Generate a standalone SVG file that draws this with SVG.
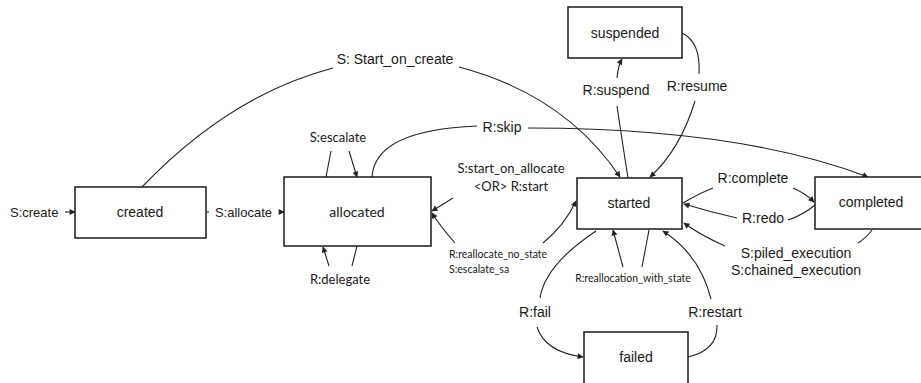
<svg xmlns="http://www.w3.org/2000/svg" width="921" height="383" viewBox="0 0 921 383">
<style>
.box{fill:#fff;stroke:#1a1a1a;stroke-width:1.5}
.c{fill:none;stroke:#222;stroke-width:1.1}
.a{font-family:"Liberation Sans",Arial,sans-serif;font-size:14px;fill:#1a1a1a}
.sm{font-size:13px}
.k{font-family:Lato,"Open Sans",sans-serif;font-size:13px;fill:#1a1a1a}
.ks{font-family:Lato,"Open Sans",sans-serif;font-size:10.5px;fill:#1a1a1a}
.m{text-anchor:middle}
</style>
<defs>
<marker id="ah" viewBox="0 0 10 10" refX="9" refY="5" markerWidth="7" markerHeight="6" markerUnits="userSpaceOnUse" orient="auto">
<path d="M0,0 L10,5 L0,10 z" fill="#222"/>
</marker>
</defs>
<rect width="921" height="383" fill="#fff"/>
<g id="connectors">
<path class="c" d="M65,212 L75,212" marker-end="url(#ah)"/>
<path class="c" d="M206,212 L209,212"/>
<path class="c" d="M279,212 L284,212" marker-end="url(#ah)"/>
<path class="c" d="M142,187 Q230,95 333,68"/>
<path class="c" d="M459,67 Q565,95 620,177" marker-end="url(#ah)"/>
<path class="c" d="M326,177 L331,151"/>
<path class="c" d="M349,151 L357,177" marker-end="url(#ah)"/>
<path class="c" d="M329,266 L323,247" marker-end="url(#ah)"/>
<path class="c" d="M357,246 L352,266"/>
<path class="c" d="M372,177 Q375,130 477,126"/>
<path class="c" d="M528,128 Q740,128 868,177" marker-end="url(#ah)"/>
<path class="c" d="M628,178 Q622,140 617,106"/>
<path class="c" d="M617,78 Q618,66 622,59" marker-end="url(#ah)"/>
<path class="c" d="M682,33 Q701,42 699,74"/>
<path class="c" d="M695,101 Q680,150 650,177" marker-end="url(#ah)"/>
<path class="c" d="M453,198 L432,211" marker-end="url(#ah)"/>
<path class="c" d="M455,243 Q440,226 432,213" marker-end="url(#ah)"/>
<path class="c" d="M543,243 Q565,225 576,201" marker-end="url(#ah)"/>
<path class="c" d="M683,203 Q700,193 713,188"/>
<path class="c" d="M793,188 Q805,193 814,202" marker-end="url(#ah)"/>
<path class="c" d="M815,205 Q803,215 788,220"/>
<path class="c" d="M737,218 Q710,212 684,204" marker-end="url(#ah)"/>
<path class="c" d="M725,246 Q700,235 684,223" marker-end="url(#ah)"/>
<path class="c" d="M872,230 Q866,238 858,243"/>
<path class="c" d="M623,267 L613,230" marker-end="url(#ah)"/>
<path class="c" d="M642,267 L649,230"/>
<path class="c" d="M596,231 Q545,265 540,298"/>
<path class="c" d="M537,327 Q545,352 583,357" marker-end="url(#ah)"/>
<path class="c" d="M688,357 Q718,350 717,325"/>
<path class="c" d="M711,299 Q700,255 663,231" marker-end="url(#ah)"/>
</g>
<g id="labels">
<text class="a sm" x="10" y="217">S:create</text>
<text class="a sm m" x="243.5" y="217">S:allocate</text>
<text class="a m" x="395" y="64">S: Start_on_create</text>
<text class="k m" x="338" y="142">S:escalate</text>
<text class="k m" x="340" y="284">R:delegate</text>
<text class="a m" x="502" y="132">R:skip</text>
<text class="a m" x="616" y="95">R:suspend</text>
<text class="a m" x="697" y="91">R:resume</text>
<text class="k m" x="511" y="173">S:start_on_allocate</text>
<text class="k m" x="511" y="191">&lt;OR&gt; R:start</text>
<text class="ks" x="449" y="258">R:reallocate_no_state</text>
<text class="ks" x="449" y="273">S:escalate_sa</text>
<text class="ks m" x="633" y="282">R:reallocation_with_state</text>
<text class="a m" x="753" y="183">R:complete</text>
<text class="a m" x="763" y="223">R:redo</text>
<text class="a m" x="796" y="258">S:piled_execution</text>
<text class="a m" x="796" y="275">S:chained_execution</text>
<text class="a m" x="535" y="317">R:fail</text>
<text class="a m" x="715" y="317">R:restart</text>
</g>
<g id="node-created"><rect class="box" x="75" y="187" width="131" height="51"/><text class="a m" x="140" y="217">created</text></g>
<g id="node-allocated"><rect class="box" x="284" y="177" width="147" height="69"/><text class="k m" x="357" y="217" style="font-size:14px">allocated</text></g>
<g id="node-suspended"><rect class="box" x="568" y="7" width="114" height="51"/><text class="a m" x="625" y="38">suspended</text></g>
<g id="node-started"><rect class="box" x="577" y="178" width="105" height="51"/><text class="a m" x="629" y="208">started</text></g>
<g id="node-completed"><rect class="box" x="815" y="177" width="110" height="52"/><text class="a m" x="871" y="207">completed</text></g>
<g id="node-failed"><rect class="box" x="584" y="332" width="104" height="55"/><text class="a m" x="636" y="362">failed</text></g>
</svg>
